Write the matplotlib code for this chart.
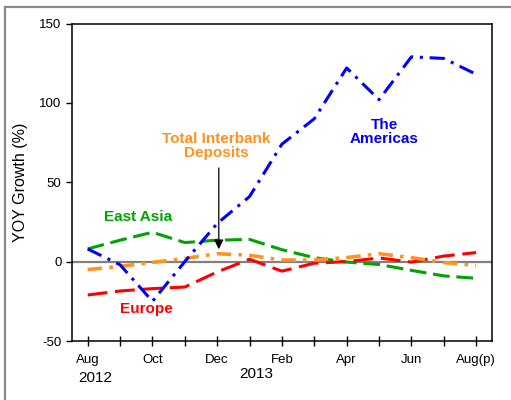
import matplotlib
matplotlib.use("Agg")
import matplotlib.pyplot as plt
from matplotlib.lines import Line2D
import numpy as np

plt.rcParams["font.family"] = ["Liberation Sans", "DejaVu Sans"]
plt.rcParams["axes.unicode_minus"] = False

# months Aug 2012 .. Aug 2013 (preliminary)
months = np.arange(13)
tick_labels = ["Aug", "", "Oct", "", "Dec", "", "Feb", "", "Apr", "", "Jun", "", "Aug(p)"]

americas = [8, -2, -25, 0, 24, 41, 74, 90, 122, 102, 129, 128, 118]
east_asia = [8, 13.5, 18.5, 12, 13.5, 14, 7.5, 2.5, -0.3, -1.8, -5.5, -9, -10.5]
europe = [-21, -18.5, -17, -16, -6.5, 1.5, -6, -1, 0, 2.3, -0.3, 3.5, 5.7]
interbank = [-5, -3, -0.5, 2, 5, 4, 1, 1, 2.5, 5, 2.5, -0.5, -2.5]

BLUE = "#0000ff"
GREEN = "#00a300"
RED = "#ff0000"
ORANGE = "#ff931e"

fig = plt.figure(figsize=(5.11, 4.0), dpi=100)
ax = fig.add_axes([72 / 511, 1 - 341 / 400, 420 / 511, 317.5 / 400])

# outer frame (only top and left edges fall inside the picture)
fig.add_artist(Line2D([5 / 511, 5 / 511], [0, 1 - 7 / 400], color="#888888", lw=1.6))
fig.add_artist(Line2D([5 / 511, 1], [1 - 7 / 400, 1 - 7 / 400], color="#888888", lw=1.6))

ax.axhline(0, color="#808080", lw=1.6, zorder=1)

ax.plot(months, east_asia, color=GREEN, lw=2.2, dashes=(5.5, 2.2), zorder=2)
ax.plot(months, europe, color=RED, lw=2.2, dashes=(6.5, 2.5), zorder=3)
ax.plot(months, interbank, color=ORANGE, lw=2.6, dashes=(4, 2, 1, 2), zorder=4)
ax.plot(months, americas, color=BLUE, lw=2.2, dashes=(5, 2.2, 1, 2.2), zorder=5)

ax.set_xlim(-0.485, 12.49)
ax.set_ylim(-50, 150)
ax.set_yticks([-50, 0, 50, 100, 150])
ax.set_xticks(months)
ax.set_xticklabels(tick_labels)
ax.tick_params(axis="x", direction="inout", length=7, width=1, labelsize=9.5, pad=6)
ax.tick_params(axis="y", direction="out", length=4, width=1, labelsize=9.5)
for s in ax.spines.values():
    s.set_linewidth(1.1)

ax.set_ylabel("YOY Growth (%)", fontsize=11.5, labelpad=8)

# year labels under the month labels
xf = ax.get_xaxis_transform()
ax.text(0.23, -0.115, "2012", transform=xf, ha="center", va="center", fontsize=11)
ax.text(5.2, -0.105, "2013", transform=xf, ha="center", va="center", fontsize=11)

# series labels
ax.text(3.98, 72.7, "Total Interbank\nDeposits", color=ORANGE, fontsize=11,
        fontweight="bold", ha="center", va="center", linespacing=1.05)
ax.text(9.17, 81.7, "The\nAmericas", color=BLUE, fontsize=11,
        fontweight="bold", ha="center", va="center", linespacing=1.05)
ax.text(1.55, 28.4, "East Asia", color=GREEN, fontsize=11,
        fontweight="bold", ha="center", va="center")
ax.text(1.81, -30, "Europe", color=RED, fontsize=11,
        fontweight="bold", ha="center", va="center")

ax.annotate("", xy=(4.05, 7.8), xytext=(4.05, 59),
            arrowprops=dict(arrowstyle="-|>", color="black", lw=0.9,
                            mutation_scale=14, shrinkA=0, shrinkB=0),
            zorder=6)

fig.savefig("out.png", dpi=100)
